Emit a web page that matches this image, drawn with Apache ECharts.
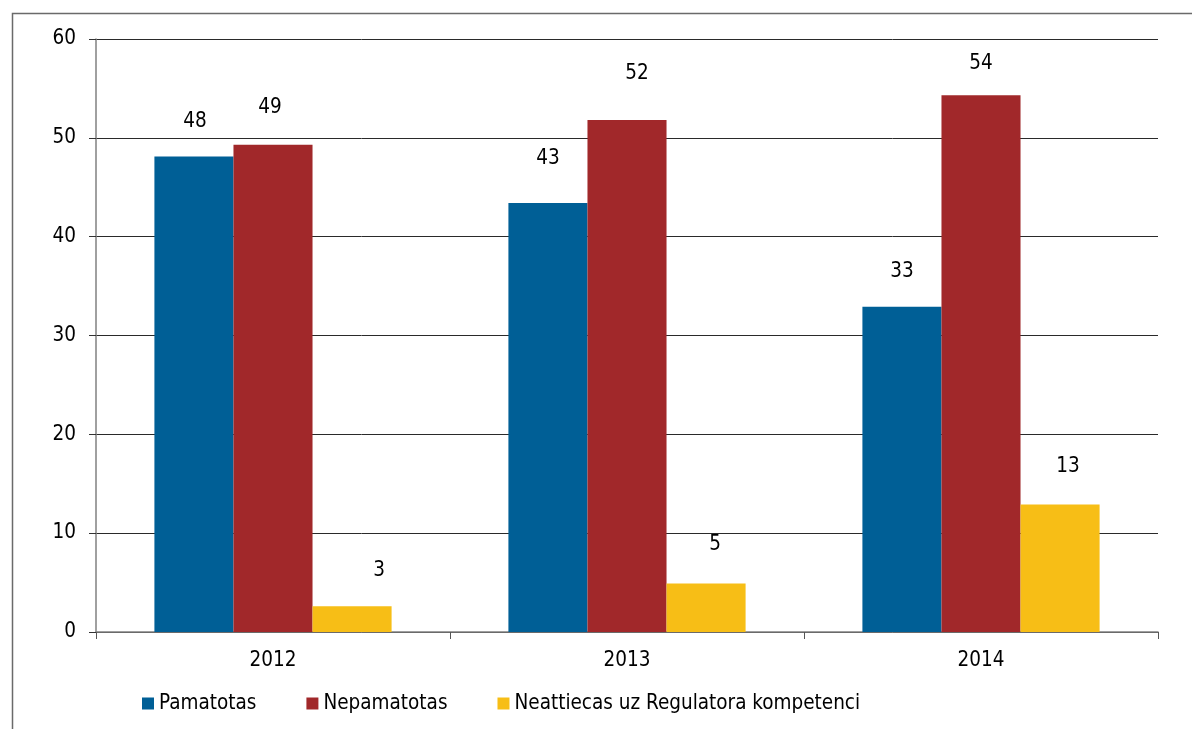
<!DOCTYPE html>
<html>
<head>
<meta charset="utf-8">
<script src="https://cdn.jsdelivr.net/npm/echarts@6/dist/echarts.min.js"></script>
<style>
  html, body { margin: 0; padding: 0; background: #fff; }
  #chart { width: 1192px; height: 729px; }
</style>
</head>
<body>
<div id="chart"></div>
<script>
// Years on the category axis
const years = ['2012', '2013', '2014'];

// Series values
const pamatotas = [48.1, 43.4, 32.9];
const nepamatotas = [49.3, 51.8, 54.3];
const neattiecas = [2.6, 4.9, 12.9];

const seriesNames = ['Pamatotas', 'Nepamatotas', 'Neattiecas uz Regulatora kompetenci'];

// Value axis ticks
const yMin = 0, yMax = 60, yStep = 10;

// Small hand nudges for the value labels, [dx, dy] per bar
const labelNudge = [
  [[1, 1], [0, -9], [0, 0]],
  [[-3, -2], [10, -11], [0, 4]],
  [[27, 0], [9, -3], [8, -2]]
];

const FONT = "'DejaVu Sans Condensed', 'DejaVu Sans', sans-serif";
const colors = ['#005f96', '#a1282a', '#f7be16'];

function makeSeries(name, values, idx) {
  return {
    name: name,
    type: 'bar',
    barGap: 0,
    barCategoryGap: '33%',
    itemStyle: { color: colors[idx] },
    data: values.map((v, i) => ({
      value: v,
      label: { offset: labelNudge[idx][i] }
    })),
    label: {
      show: true,
      position: 'top',
      distance: 25,
      color: '#000',
      fontFamily: FONT,
      fontSize: 20.5,
      formatter: p => Math.round(p.value)
    }
  };
}

const chart = echarts.init(document.getElementById('chart'), null, { renderer: 'canvas' });
chart.setOption({
  animation: false,
  backgroundColor: '#fff',
  graphic: [{
    type: 'rect',
    left: 10, top: 11,
    shape: { width: 1300, height: 900 },
    style: { fill: 'none', stroke: '#6a6a6a', lineWidth: 1.5 },
    silent: true
  }],
  grid: { left: 96, right: 34, top: 39, bottom: 97, containLabel: false },
  legend: {
    left: 137,
    top: 688,
    itemWidth: 12,
    itemHeight: 12,
    itemGap: 50,
    icon: 'rect',
    textStyle: { fontFamily: FONT, fontSize: 20.5, color: '#000' },
    data: seriesNames
  },
  xAxis: {
    type: 'category',
    data: years,
    axisLine: { show: true, lineStyle: { color: '#808080', width: 1.5 } },
    axisTick: { show: true, length: 7, alignWithLabel: false, lineStyle: { color: '#555' } },
    axisLabel: { margin: 18, color: '#000', fontFamily: FONT, fontSize: 20.5 },
    splitLine: { show: false }
  },
  yAxis: {
    type: 'value',
    min: yMin, max: yMax, interval: yStep,
    axisLine: { show: true, lineStyle: { color: '#808080', width: 1.5 } },
    axisTick: { show: true, length: 7, lineStyle: { color: '#333' } },
    axisLabel: { margin: 20, color: '#000', fontFamily: FONT, fontSize: 20.5 },
    splitLine: { show: true, lineStyle: { color: '#2a2a2a', width: 1 } }
  },
  series: [
    makeSeries(seriesNames[0], pamatotas, 0),
    makeSeries(seriesNames[1], nepamatotas, 1),
    makeSeries(seriesNames[2], neattiecas, 2)
  ]
});
</script>
</body>
</html>
